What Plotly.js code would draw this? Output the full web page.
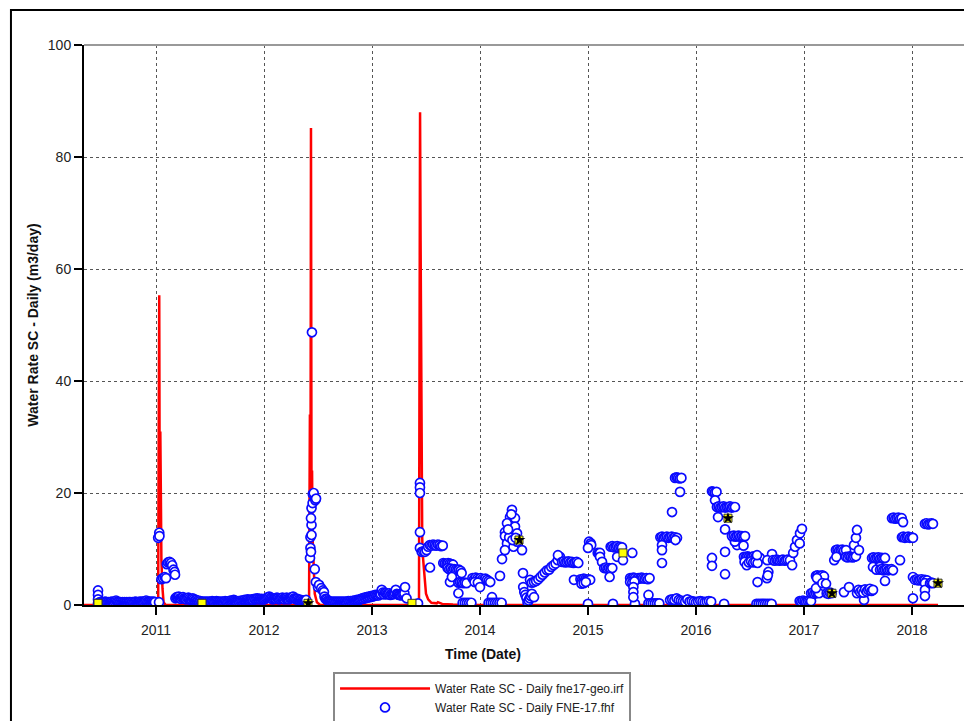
<!DOCTYPE html>
<html>
<head>
<meta charset="utf-8">
<script src="https://cdn.plot.ly/plotly-3.0.1.min.js"></script>
<style>html,body{margin:0;padding:0;background:#fff;}#chart{width:964px;height:721px;}</style>
</head>
<body>
<div id="chart"></div>
<script>
// ---- tick labels ----
const yearTicks = [2011, 2012, 2013, 2014, 2015, 2016, 2017, 2018];
const yearLabels = ["2011", "2012", "2013", "2014", "2015", "2016", "2017", "2018"];
const rateTicks = [0, 20, 40, 60, 80, 100];

// ---- simulated series (decimal year, m3/day) ----
const simX = [2010.333, 2011.02, 2011.025, 2011.03, 2011.035, 2011.04, 2011.045, 2011.05, 2011.06, 2011.07, 2011.09,
  2012.417, 2012.425, 2012.43, 2012.435, 2012.44, 2012.445, 2012.45, 2012.46, 2012.47, 2012.49, 2012.52,
  2013.435, 2013.44, 2013.445, 2013.45, 2013.455, 2013.46, 2013.465, 2013.47, 2013.48, 2013.49, 2013.5, 2013.52,
  2013.55, 2013.6, 2013.61, 2013.65, 2013.75, 2014.0, 2018.241];
const simY = [0, 0, 30, 55.3, 12, 31, 20, 8, 3, 0.5, 0,
  0, 34, 10, 85.2, 20, 24, 12, 6, 2, 0.5, 0,
  0, 44, 88, 65, 40, 20, 12, 9, 6, 3.5, 2, 1,
  0.4, 0.3, 0.5, 0.2, 0.1, 0, 0];

// ---- observed series (decimal year, m3/day) ----
const obsX = [
  2010.463,2010.463,2010.463,2010.463,
  2010.47,2010.48,2010.49,2010.50,2010.51,2010.52,2010.53,2010.54,2010.55,2010.56,
  2010.57,2010.58,2010.59,2010.60,2010.61,2010.62,2010.63,2010.64,2010.65,2010.66,
  2010.67,2010.68,2010.69,2010.70,2010.71,2010.72,2010.73,2010.74,2010.75,2010.76,
  2010.77,2010.78,2010.79,2010.80,2010.81,2010.82,2010.83,2010.84,2010.85,2010.86,
  2010.87,2010.88,2010.89,2010.90,2010.91,2010.92,2010.93,2010.94,2010.95,2010.96,
  2010.97,2010.98,2010.99,
  2011.028,2011.02,2011.03,2011.032,2011.05,2011.065,2011.08,2011.093,2011.10,2011.111,2011.125,2011.139,2011.15,2011.162,2011.172,2011.176,
  2011.18,2011.19,2011.20,2011.21,2011.22,2011.23,2011.24,2011.25,2011.26,2011.27,
  2011.28,2011.29,2011.30,2011.31,2011.32,2011.33,2011.34,2011.35,2011.36,2011.37,
  2011.38,2011.39,2011.40,2011.41,2011.42,2011.43,2011.44,2011.45,2011.46,2011.47,
  2011.48,2011.49,2011.50,2011.51,2011.52,2011.53,2011.54,2011.55,2011.56,2011.57,
  2011.58,2011.59,2011.60,2011.61,2011.62,2011.63,2011.64,2011.65,2011.66,2011.67,
  2011.68,2011.69,2011.70,2011.71,2011.72,2011.73,2011.74,2011.75,2011.76,2011.77,
  2011.78,2011.79,2011.80,2011.81,2011.82,2011.83,2011.84,2011.85,2011.86,2011.87,
  2011.88,2011.89,2011.90,2011.91,2011.92,2011.93,2011.94,2011.95,2011.96,2011.97,
  2011.98,2011.99,
  2012.00,2012.01,2012.02,2012.03,2012.04,2012.05,2012.06,2012.07,2012.08,2012.09,
  2012.10,2012.11,2012.12,2012.13,2012.14,2012.15,2012.16,2012.17,2012.18,2012.19,
  2012.20,2012.21,2012.22,2012.23,2012.24,2012.25,2012.26,2012.27,2012.28,2012.29,
  2012.30,2012.31,2012.32,2012.33,2012.34,2012.35,2012.36,2012.37,2012.38,2012.39,
  2012.426,2012.43,2012.435,2012.43,2012.44,2012.44,2012.435,2012.44,2012.45,2012.452,2012.444,2012.46,2012.475,2012.482,2012.47,2012.48,2012.50,2012.51,2012.53,2012.545,2012.555,
  2012.56,2012.57,2012.58,2012.59,2012.60,2012.61,2012.62,2012.63,2012.64,2012.65,
  2012.66,2012.67,2012.68,2012.69,2012.70,2012.71,2012.72,2012.73,2012.74,2012.75,
  2012.76,2012.77,2012.78,2012.79,2012.80,2012.81,2012.82,2012.83,2012.84,2012.85,
  2012.86,2012.87,2012.88,2012.89,2012.90,2012.91,2012.92,2012.93,2012.94,2012.95,
  2012.96,2012.97,2012.98,2012.99,2013.00,2013.01,2013.02,2013.03,2013.04,2013.05,
  2013.06,2013.07,2013.08,2013.09,2013.10,2013.11,2013.12,2013.13,2013.14,2013.15,
  2013.16,2013.17,2013.18,2013.19,2013.20,2013.21,2013.22,2013.23,2013.24,2013.25,
  2013.26,2013.27,2013.28,2013.29,2013.30,2013.306,2013.32,2013.426,
  2013.444,2013.444,2013.444,2013.444,2013.444,2013.46,2013.475,2013.49,2013.505,2013.52,2013.535,2013.55,2013.565,2013.58,2013.595,2013.61,2013.625,2013.64,2013.655,2013.537,
  2013.66,2013.675,2013.69,2013.705,2013.72,2013.735,2013.75,
  2013.70,2013.715,2013.73,2013.745,2013.76,2013.775,2013.79,2013.805,2013.82,
  2013.722,2013.74,2013.80,2013.83,
  2013.80,2013.815,2013.83,2013.845,2013.86,2013.875,
  2013.84,2013.86,2013.88,2013.90,2013.92,
  2013.93,2013.945,2013.96,2013.975,2013.99,2014.005,2014.02,2014.035,2014.05,2014.065,2014.08,2014.095,
  2013.95,2013.98,2014.0,2014.111,
  2014.08,2014.10,2014.12,2014.14,2014.16,2014.18,2014.20,
  2014.296,2014.278,2014.25,2014.324,2014.231,2014.231,2014.25,2014.231,2014.204,2014.185,2014.324,2014.343,2014.31,2014.389,2014.398,2014.343,2014.27,2014.3,2014.33,2014.26,2014.29,
  2014.40,2014.41,2014.42,2014.43,2014.44,2014.45,2014.46,2014.47,2014.48,2014.50,
  2014.463,2014.48,2014.50,2014.52,2014.54,2014.56,2014.58,2014.60,2014.62,2014.64,2014.66,2014.68,2014.70,2014.72,2014.74,2014.722,
  2014.76,2014.775,2014.79,2014.805,2014.82,2014.835,2014.85,2014.865,2014.88,2014.895,2014.91,
  2014.87,
  2014.93,2014.945,2014.96,2014.975,2014.99,2015.005,2015.02,
  2014.94,2014.96,2014.98,2015.0,
  2015.01,2015.025,2015.03,2015.0,2015.09,2015.10,2015.111,2015.111,2015.13,2015.15,2015.165,2015.18,2015.195,2015.21,2015.225,2015.2,
  2015.21,2015.225,2015.24,2015.255,2015.27,2015.285,2015.30,2015.315,
  2015.27,2015.324,2015.41,2015.231,2015.435,
  2015.39,2015.405,2015.42,2015.435,2015.45,2015.465,2015.48,2015.495,2015.51,2015.525,2015.54,2015.555,2015.57,
  2015.39,2015.41,2015.43,
  2015.42,2015.42,2015.42,2015.56,
  2015.56,2015.58,2015.60,2015.62,2015.64,2015.66,
  2015.67,2015.685,2015.70,2015.715,2015.73,2015.745,2015.76,2015.775,2015.79,2015.805,
  2015.685,2015.685,2015.685,2015.778,2015.824,2015.81,
  2015.806,2015.82,2015.835,2015.85,2015.865,
  2015.852,
  2015.76,2015.78,2015.80,2015.82,2015.84,
  2015.86,2015.88,2015.90,2015.92,2015.94,2015.96,2015.98,2016.00,2016.02,2016.04,2016.06,2016.08,2016.10,2016.12,2016.14,
  2016.148,2016.16,2016.175,2016.19,
  2016.176,
  2016.194,2016.21,2016.225,2016.24,2016.255,2016.27,2016.285,2016.30,2016.315,2016.33,2016.345,2016.361,
  2016.204,2016.269,2016.38,2016.269,2016.148,2016.148,2016.269,2016.26,2016.36,2016.44,
  2016.333,2016.35,2016.365,2016.38,2016.395,2016.41,2016.425,2016.44,2016.454,
  2016.444,2016.46,2016.475,2016.49,2016.505,2016.52,2016.535,2016.55,2016.565,2016.58,2016.593,
  2016.45,2016.47,2016.49,2016.51,2016.53,2016.55,2016.57,
  2016.565,2016.57,
  2016.56,2016.58,2016.60,2016.62,2016.64,2016.66,2016.68,2016.70,
  2016.657,2016.67,2016.704,2016.66,2016.665,
  2016.713,2016.73,2016.745,2016.76,2016.775,2016.79,2016.805,2016.82,2016.835,2016.85,2016.87,
  2016.9,2016.89,2016.917,2016.935,2016.963,2016.981,2016.96,
  2016.96,2016.975,2016.99,2017.005,2017.02,2017.035,2017.05,2017.065,
  2017.065,2017.08,2017.095,2017.11,2017.125,2017.139,
  2017.111,
  2017.111,2017.125,2017.14,2017.155,2017.17,2017.185,
  2017.12,2017.17,2017.204,
  2017.21,2017.225,2017.24,2017.255,
  2017.296,2017.31,2017.325,2017.34,2017.355,2017.37,2017.389,
  2017.28,2017.3,2017.37,2017.417,
  2017.389,2017.405,2017.42,2017.435,2017.45,2017.465,2017.481,
  2017.463,2017.481,2017.491,2017.509,2017.556,
  2017.491,2017.505,2017.52,2017.535,2017.55,2017.565,2017.58,2017.595,2017.61,2017.625,2017.639,
  2017.63,2017.645,2017.66,2017.675,2017.69,2017.705,2017.72,2017.735,2017.75,
  2017.639,2017.7,2017.67,2017.75,2017.889,
  2017.704,2017.72,2017.735,2017.75,2017.765,2017.78,2017.795,2017.81,2017.824,
  2017.815,2017.83,2017.845,2017.86,2017.875,2017.89,2017.905,
  2017.917,
  2017.907,2017.92,2017.935,2017.95,2017.965,2017.98,2017.995,2018.009,
  2018.009,2018.009,
  2018.028,2018.045,2018.06,2018.075,2018.09,2018.105,2018.12,2018.139,
  2018.12,2018.12,2018.12,
  2018.167,2018.18,2018.194,
  2018.12,2018.135,2018.15,2018.165,2018.18,2018.194
];
const obsY = [
  2.6,1.8,1.0,0.3,
  0.4,0.5,0.4,0.5,0.4,0.5,0.6,0.5,0.4,0.5,
  0.4,0.5,0.6,0.5,0.4,0.6,0.8,0.6,0.5,0.4,
  0.5,0.4,0.5,0.4,0.5,0.4,0.5,0.4,0.5,0.5,
  0.4,0.5,0.4,0.5,0.6,0.5,0.4,0.5,0.6,0.5,
  0.6,0.5,0.6,0.7,0.8,0.6,0.5,0.6,0.5,0.6,
  0.5,0.6,0.5,
  0.5,12.0,12.9,12.3,4.6,4.8,5.0,4.8,7.3,7.6,7.7,7.5,7.1,6.3,5.9,5.4,
  1.2,1.4,1.3,1.5,1.2,1.1,1.3,1.4,1.2,1.1,
  1.0,1.2,1.3,1.1,0.9,1.0,1.2,1.0,0.8,0.9,
  0.7,0.8,0.6,0.7,0.5,0.6,0.5,0.6,0.5,0.6,
  0.5,0.6,0.5,0.6,0.7,0.6,0.5,0.6,0.7,0.6,
  0.5,0.6,0.5,0.6,0.5,0.6,0.7,0.6,0.5,0.6,
  0.7,0.8,0.7,0.8,0.9,0.8,0.7,0.6,0.7,0.6,
  0.7,0.8,0.7,0.8,0.9,0.8,0.9,1.0,0.9,0.8,
  0.9,1.0,0.9,1.1,1.0,1.1,1.2,1.0,1.1,1.0,
  1.1,1.0,
  1.0,1.1,1.2,1.3,1.4,1.5,1.3,1.2,1.0,1.1,
  1.2,1.1,1.3,1.2,1.0,1.1,1.2,1.3,1.1,1.0,
  1.2,1.3,1.1,1.0,1.2,1.3,1.4,1.5,1.2,1.1,
  1.0,1.1,0.9,0.8,0.9,0.7,0.8,0.7,0.8,0.9,
  8.4,10.2,9.5,12.1,12.5,14.3,15.5,17.3,18.2,19.8,48.7,20.0,18.7,19.0,6.4,4.1,3.2,3.6,3.0,2.6,2.3,
  1.5,1.1,1.0,0.8,0.7,0.6,0.5,0.6,0.5,0.6,
  0.5,0.6,0.5,0.6,0.5,0.6,0.5,0.6,0.5,0.6,
  0.5,0.6,0.7,0.6,0.7,0.6,0.7,0.8,0.7,0.8,
  0.9,0.8,0.9,1.0,1.1,1.2,1.1,1.3,1.2,1.4,
  1.3,1.5,1.4,1.6,1.5,1.7,1.6,1.8,1.7,1.8,
  1.7,1.9,2.0,2.7,2.2,1.9,2.2,2.1,1.9,2.0,
  2.1,1.8,2.0,1.9,2.0,2.2,2.7,2.0,1.9,1.8,
  1.8,1.7,1.9,2.0,2.1,3.2,1.2,0.3,
  21.8,21.0,20.0,13.0,10.2,9.5,9.6,9.5,9.8,10.4,10.7,10.6,10.8,10.7,10.6,10.8,10.7,10.5,10.6,6.7,
  7.5,7.4,7.3,7.5,7.4,7.3,7.2,
  6.6,6.4,6.5,6.3,6.4,6.3,6.2,6.3,6.1,
  4.1,5.0,2.1,5.7,
  4.0,4.1,4.0,3.9,4.0,3.9,
  0.4,0.4,0.4,0.4,0.4,
  4.8,4.6,4.9,4.7,4.5,4.8,4.6,4.4,4.7,4.5,4.3,4.1,
  4.1,4.0,3.2,1.4,
  0.4,0.4,0.4,0.4,0.4,0.4,0.4,
  17.0,15.7,14.6,15.5,13.0,12.3,11.0,9.8,8.2,5.2,14.0,12.8,10.4,9.8,5.7,11.3,12.1,11.6,12.0,13.5,16.2,
  3.2,2.3,1.8,1.3,0.5,0.8,1.2,1.6,2.0,1.4,
  4.5,4.0,4.1,4.3,4.6,5.0,5.4,5.8,6.2,6.3,6.8,7.1,7.4,8.0,8.6,8.9,
  7.7,7.8,7.6,7.7,7.8,7.6,7.7,7.5,7.6,7.7,7.5,
  4.5,
  4.6,4.5,4.7,4.6,4.5,4.6,4.5,
  3.8,3.9,4.1,0.2,
  11.3,11.0,10.7,10.2,9.3,9.2,9.3,8.6,7.7,6.6,6.7,6.5,6.6,6.5,6.6,5.0,
  10.4,10.5,10.3,10.4,10.5,10.3,10.4,10.3,
  8.6,8.0,9.3,0.2,0.2,
  4.8,4.7,4.9,4.8,4.6,4.8,4.7,4.9,4.8,4.7,4.8,4.6,4.8,
  4.1,4.0,4.2,
  3.2,2.3,1.4,1.8,
  0.3,0.3,0.3,0.3,0.3,0.3,
  12.1,12.2,12.0,12.1,12.2,12.0,12.1,12.2,12.0,12.1,
  10.7,9.8,7.5,16.6,12.0,11.6,
  22.7,22.8,22.7,22.6,22.7,
  20.2,
  0.9,1.0,0.9,1.2,0.9,
  0.8,0.7,0.6,1.0,0.6,0.7,0.6,0.5,0.6,0.7,0.6,0.5,0.6,0.7,0.6,
  20.3,20.2,20.1,20.2,
  18.7,
  17.5,17.6,17.4,17.5,17.6,17.4,17.5,17.5,17.6,17.4,17.5,17.5,
  15.7,13.5,10.7,9.5,8.4,7.0,5.5,0.2,11.3,10.6,
  12.3,12.4,12.2,12.3,12.4,12.2,12.3,12.2,12.3,
  8.6,8.5,8.7,8.6,8.5,8.6,8.7,8.5,8.6,8.5,8.4,
  7.7,7.1,7.6,7.8,7.6,7.7,7.5,
  8.9,4.1,
  0.2,0.2,0.2,0.2,0.2,0.2,0.2,0.2,
  4.8,5.9,9.1,8.0,5.3,
  8.0,7.9,8.1,8.0,7.9,8.0,8.1,7.9,8.0,8.1,8.0,
  9.3,7.1,10.4,11.6,12.8,13.6,11.0,
  0.7,0.6,0.8,0.7,0.6,0.7,0.8,0.7,
  2.1,2.2,2.0,2.1,2.2,2.1,
  3.0,
  5.2,5.3,5.1,5.2,5.3,5.1,
  4.8,3.9,3.8,
  2.1,2.0,2.2,2.1,
  9.8,9.9,9.7,9.8,9.9,9.7,9.8,
  8.0,8.6,2.3,3.2,
  8.6,8.5,8.7,8.6,8.5,8.6,8.7,
  10.7,12.0,13.4,9.8,0.9,
  2.1,2.7,2.3,2.6,2.2,2.8,2.4,2.7,2.9,2.5,2.7,
  8.4,8.5,8.3,8.4,8.5,8.3,8.4,8.3,8.4,
  6.8,6.8,6.3,4.3,8.0,
  6.3,6.4,6.2,6.3,6.4,6.2,6.3,6.4,6.2,
  15.5,15.6,15.4,15.5,15.6,15.4,15.5,
  14.8,
  12.1,12.2,12.0,12.1,12.2,12.0,12.1,12.0,
  5.0,1.2,
  4.5,4.6,4.4,4.5,4.6,4.4,4.5,4.4,
  3.9,2.7,1.6,
  3.9,4.0,3.9,
  14.5,14.6,14.4,14.5,14.6,14.5
];

// ---- reference-point markers ----
const flagX = [2010.463, 2011.426, 2012.407, 2013.37, 2014.361, 2015.324, 2016.296, 2017.259, 2018.241];
const flagY = [0.3, 0.3, 0.3, 0.3, 11.6, 9.3, 15.5, 2.1, 3.9];
const starX = [2012.41, 2014.365, 2016.296, 2017.259, 2018.241];
const starY = [0.3, 11.6, 15.5, 2.1, 3.9];

const seriesNames = ["Water Rate SC - Daily fne17-geo.irf", "Water Rate SC - Daily FNE-17.fhf"];

const FONT = "Arial, 'Liberation Sans', sans-serif";

const traces = [
  {x: simX, y: simY, type: "scatter", mode: "lines", name: seriesNames[0],
   line: {color: "rgb(255,0,0)", width: 2.5}},
  {x: obsX, y: obsY, type: "scatter", mode: "markers", name: seriesNames[1],
   marker: {symbol: "circle", size: 9, color: "#ffffff", line: {color: "rgb(10,10,255)", width: 1.7}}},
  {x: flagX, y: flagY, type: "scatter", mode: "markers", showlegend: false, hoverinfo: "skip",
   marker: {symbol: "square", size: 8, color: "#ffff00", line: {color: "#333", width: 1}}},
  {x: starX, y: starY, type: "scatter", mode: "markers", showlegend: false, hoverinfo: "skip",
   marker: {symbol: "star", size: 9, color: "#000000"}}
];

const layout = {
  width: 964, height: 721,
  margin: {l: 84, r: 0, t: 45, b: 116, autoexpand: false},
  paper_bgcolor: "#ffffff", plot_bgcolor: "#ffffff",
  font: {family: FONT, size: 13, color: "#222"},
  showlegend: true,
  legend: {x: 0.283, xref: "paper", y: 0.068, yref: "container", xanchor: "left", yanchor: "top",
    bordercolor: "#888", borderwidth: 2, bgcolor: "#ffffff",
    font: {family: FONT, size: 12, color: "#222"}, itemwidth: 90, tracegroupgap: 0},
  xaxis: {
    range: [2010.3333, 2018.4815], tickmode: "array", tickvals: yearTicks, ticktext: yearLabels,
    showgrid: true, gridcolor: "#555", griddash: "dot", gridwidth: 1,
    showline: true, linecolor: "#000", linewidth: 2, zeroline: false,
    ticks: "outside", ticklen: 8, tickwidth: 2, tickcolor: "#000", ticklabelstandoff: 3,
    tickfont: {family: FONT, size: 14, color: "#222"}
  },
  yaxis: {
    range: [0, 100], tickmode: "array", tickvals: rateTicks,
    showgrid: true, gridcolor: "#555", griddash: "dot", gridwidth: 1,
    showline: true, linecolor: "#000", linewidth: 2, zeroline: false,
    ticks: "outside", ticklen: 8, tickwidth: 2, tickcolor: "#000",
    tickfont: {family: FONT, size: 14, color: "#222"},
    title: {text: "<b>Water Rate SC - Daily (m3/day)</b>", font: {family: FONT, size: 14, color: "#111"}, standoff: 6}
  },
  annotations: [
    {text: "<b>Time (Date)</b>", xref: "paper", yref: "paper", x: 0.4534, y: -0.0875,
     xanchor: "center", yanchor: "middle", showarrow: false, font: {family: FONT, size: 14, color: "#111"}}
  ],
  shapes: [
    {type: "line", xref: "paper", yref: "paper", x0: 0, x1: 1, y0: 1, y1: 1, line: {color: "#999", width: 2}},
    {type: "rect", xref: "paper", yref: "paper", x0: -0.083, x1: 1.2, y0: 1.0625, y1: -0.6,
     line: {color: "#000", width: 2}, fillcolor: "rgba(0,0,0,0)"}
  ]
};

Plotly.newPlot("chart", traces, layout, {displayModeBar: false, staticPlot: true});
</script>
</body>
</html>
